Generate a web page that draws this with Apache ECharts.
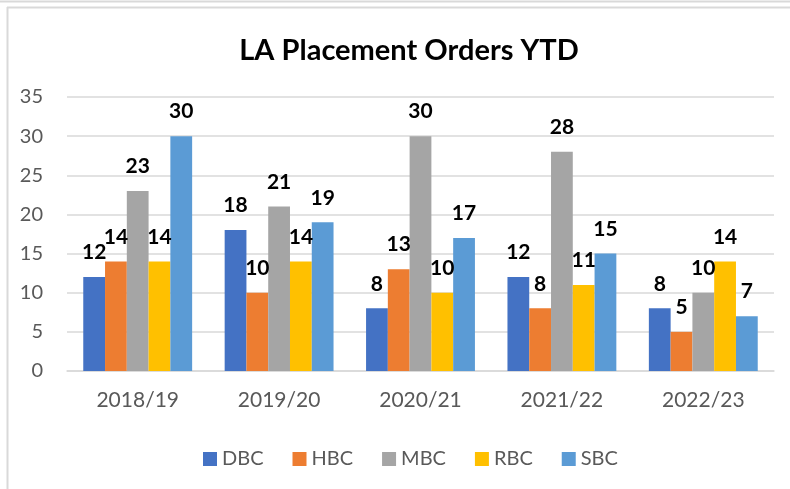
<!DOCTYPE html>
<html><head><meta charset="utf-8">
<script src="https://cdn.jsdelivr.net/npm/echarts@6/dist/echarts.min.js"></script>
<style>html,body{margin:0;padding:0;background:#fff}#c{width:790px;height:489px}</style>
</head><body><div id="c"></div>
<script>
const categories = ['2018/19','2019/20','2020/21','2021/22','2022/23'];
const seriesNames = ['DBC','HBC','MBC','RBC','SBC'];
const DBC = [12,18,8,12,8];
const HBC = [14,10,13,8,5];
const MBC = [23,21,30,28,10];
const RBC = [14,14,10,11,14];
const SBC = [30,19,17,15,7];
const yTicks = {min:0,max:35,interval:5};
const colors = ['#4472C4','#ED7D31','#A5A5A5','#FFC000','#5B9BD5'];
const values = [DBC,HBC,MBC,RBC,SBC];
const font = 'Lato, "Open Sans", sans-serif';
const chart = echarts.init(document.getElementById('c'));
chart.setOption({
  animation:false,
  title:{text:'LA Placement Orders YTD',left:404,textAlign:'center',top:31,
    textStyle:{fontFamily:font,fontSize:29,fontWeight:'bold',color:'#000'}},
  graphic:[
    {type:'line',shape:{x1:0,y1:1.5,x2:790,y2:1.5},style:{stroke:'#d9d9d9',lineWidth:2}},
    {type:'line',shape:{x1:7,y1:7.5,x2:790,y2:7.5},style:{stroke:'#d9d9d9',lineWidth:2}},
    {type:'line',shape:{x1:7.5,y1:7,x2:7.5,y2:489},style:{stroke:'#d9d9d9',lineWidth:2}}
  ],
  legend:{bottom:15,left:198,itemWidth:14,itemHeight:14,itemGap:29,icon:'rect',
    textStyle:{fontFamily:font,fontSize:20,color:'#595959'},data:seriesNames},
  grid:{left:67,right:16,top:97,bottom:118},
  xAxis:{type:'category',data:categories,
    axisLine:{lineStyle:{color:'#d9d9d9',width:1.5}},axisTick:{show:false},
    axisLabel:{fontFamily:font,fontSize:21,color:'#595959',margin:19}},
  yAxis:{type:'value',min:yTicks.min,max:yTicks.max,interval:yTicks.interval,
    axisLine:{show:false},axisTick:{show:false},
    splitLine:{lineStyle:{color:'#d9d9d9',width:1.5}},
    axisLabel:{fontFamily:font,fontSize:20,color:'#595959',margin:24}},
  series: seriesNames.map((n,i)=>({
    name:n,type:'bar',data:values[i],barGap:'0%',barCategoryGap:'23%',
    itemStyle:{color:colors[i]},
    label:{show:true,position:'top',distance:14,fontFamily:font,fontSize:21,fontWeight:'bold',color:'#000'}
  }))
});
</script></body></html>
